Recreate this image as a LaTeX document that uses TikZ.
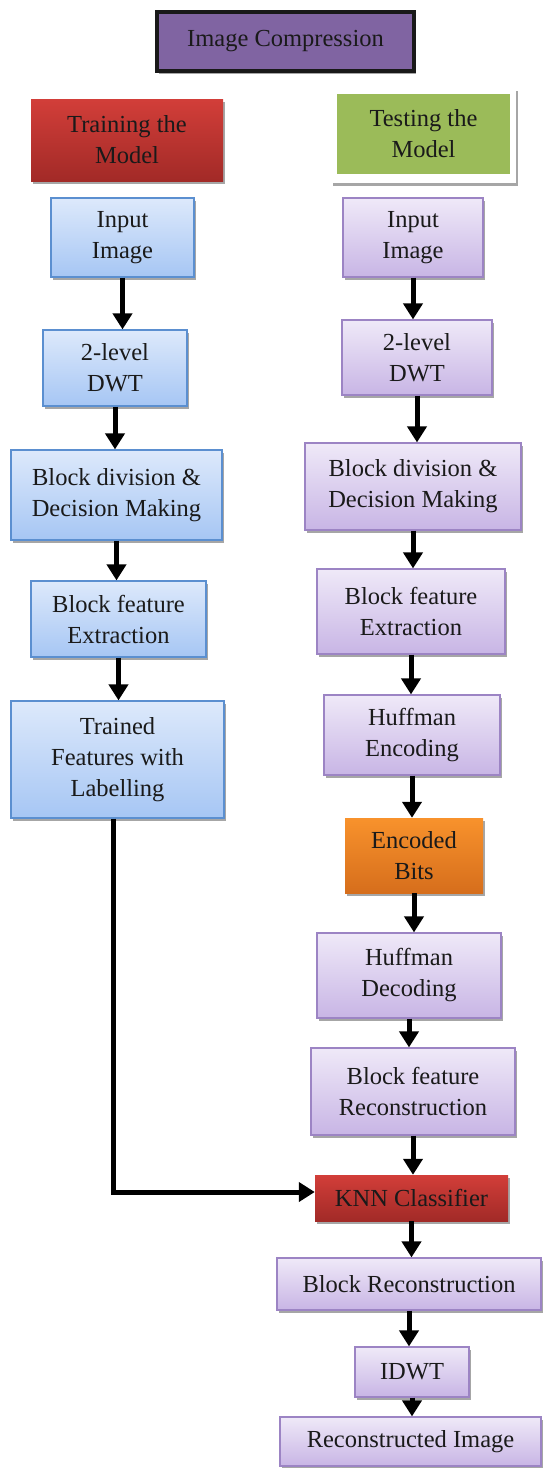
\documentclass[tikz,border=0pt]{standalone}
\usepackage{fontspec}
\setmainfont{Liberation Serif}
\usetikzlibrary{arrows.meta,shadows}
\definecolor{txt}{HTML}{1A1A1A}
\definecolor{bluetop}{HTML}{DDE9FB}
\definecolor{bluebot}{HTML}{A6C6F4}
\definecolor{bluedge}{HTML}{5B8FD0}
\definecolor{purtop}{HTML}{EFE9F8}
\definecolor{purbot}{HTML}{C8B5E5}
\definecolor{puredge}{HTML}{9C84C4}
\definecolor{redtop}{HTML}{D23E39}
\definecolor{redbot}{HTML}{A22A27}
\definecolor{greenfill}{HTML}{9BBB59}
\definecolor{orgtop}{HTML}{F8922C}
\definecolor{orgbot}{HTML}{D66E1C}
\definecolor{titlefill}{HTML}{8064A2}
\begin{document}
\begin{tikzpicture}[x=1pt,y=-1pt,
  box/.style={align=center, inner sep=0pt, text=txt,
    font=\fontsize{24.5}{31}\selectfont,
    drop shadow={shadow xshift=1.5pt, shadow yshift=-3pt, fill=black, opacity=0.35}},
  bluebox/.style={box, draw=bluedge, line width=1.2pt, top color=bluetop, bottom color=bluebot},
  purbox/.style={box, draw=puredge, line width=1.2pt, top color=purtop, bottom color=purbot},
  redbox/.style={box, draw=none, top color=redtop, bottom color=redbot},
  orgbox/.style={box, draw=none, top color=orgtop, bottom color=orgbot},
  arr/.style={line width=5pt, draw=black, -{Triangle[length=16pt,width=19pt]}}
]
\useasboundingbox (0,0) rectangle (544,1468);
\fill[white] (0,0) rectangle (544,1468);

% title
\node[box, draw=black!90, line width=4pt, fill=titlefill, minimum width=257pt, minimum height=59pt] (title) at (285.5,41.5) {Image Compression};

% headers
\node[redbox, minimum width=192pt, minimum height=82pt] (train) at (127,140) {Training the\\Model};
\node[box, fill=white, minimum width=185pt, minimum height=95pt] (testframe) at (423.5,135.5) {};
\node[align=center, inner sep=0pt, text=txt, font=\fontsize{24.5}{31}\selectfont, fill=greenfill, minimum width=173pt, minimum height=80pt] (test) at (423.5,134) {Testing the\\Model};

% left column
\node[bluebox, minimum width=143pt, minimum height=79pt] (L1) at (122.5,237.5) {Input\\Image};
\node[bluebox, minimum width=144pt, minimum height=76pt] (L2) at (115,368) {2-level\\DWT};
\node[bluebox, minimum width=211pt, minimum height=90pt] (L3) at (116.5,495) {Block division \&\\Decision Making};
\node[bluebox, minimum width=175pt, minimum height=76pt] (L4) at (118.5,619) {Block feature\\Extraction};
\node[bluebox, minimum width=213pt, minimum height=117pt] (L5) at (117.5,759.5) {Trained\\Features with\\Labelling};

% right column
\node[purbox, minimum width=140pt, minimum height=79pt] (R1) at (413,237.5) {Input\\Image};
\node[purbox, minimum width=150pt, minimum height=75pt] (R2) at (417,357.5) {2-level\\DWT};
\node[purbox, minimum width=216pt, minimum height=87pt] (R3) at (413,486.5) {Block division \&\\Decision Making};
\node[purbox, minimum width=188pt, minimum height=85pt] (R4) at (411,611.5) {Block feature\\Extraction};
\node[purbox, minimum width=176pt, minimum height=80pt] (R5) at (412,735) {Huffman\\Encoding};
\node[orgbox, minimum width=138pt, minimum height=75pt] (R6) at (414,855.5) {Encoded\\Bits};
\node[purbox, minimum width=184pt, minimum height=85pt] (R7) at (409,975.5) {Huffman\\Decoding};
\node[purbox, minimum width=204pt, minimum height=87pt] (R8) at (413,1091.5) {Block feature\\Reconstruction};
\node[redbox, minimum width=193pt, minimum height=46pt] (knn) at (411.5,1198) {KNN Classifier};
\node[purbox, minimum width=264pt, minimum height=52pt] (R9) at (409,1284) {Block Reconstruction};
\node[purbox, minimum width=114pt, minimum height=50pt] (R10) at (412,1372) {IDWT};
\node[purbox, minimum width=261pt, minimum height=49pt] (R11) at (410.5,1441.5) {Reconstructed Image};

% left arrows
\foreach \a/\b in {L1/L2, L2/L3, L3/L4, L4/L5}
  \draw[arr] (\a.south) -- (\a.south |- \b.north);
% right arrows
\foreach \a/\b in {R1/R2, R2/R3, R3/R4, R4/R5, R5/R6, R6/R7, R7/R8, R8/knn, knn/R9, R9/R10, R10/R11}
  \draw[arr] (\a.south) -- (\a.south |- \b.north);
% training to classifier
\draw[arr] ([xshift=-4.5pt]L5.south) |- ([yshift=6pt]knn.west);
\end{tikzpicture}
\end{document}
